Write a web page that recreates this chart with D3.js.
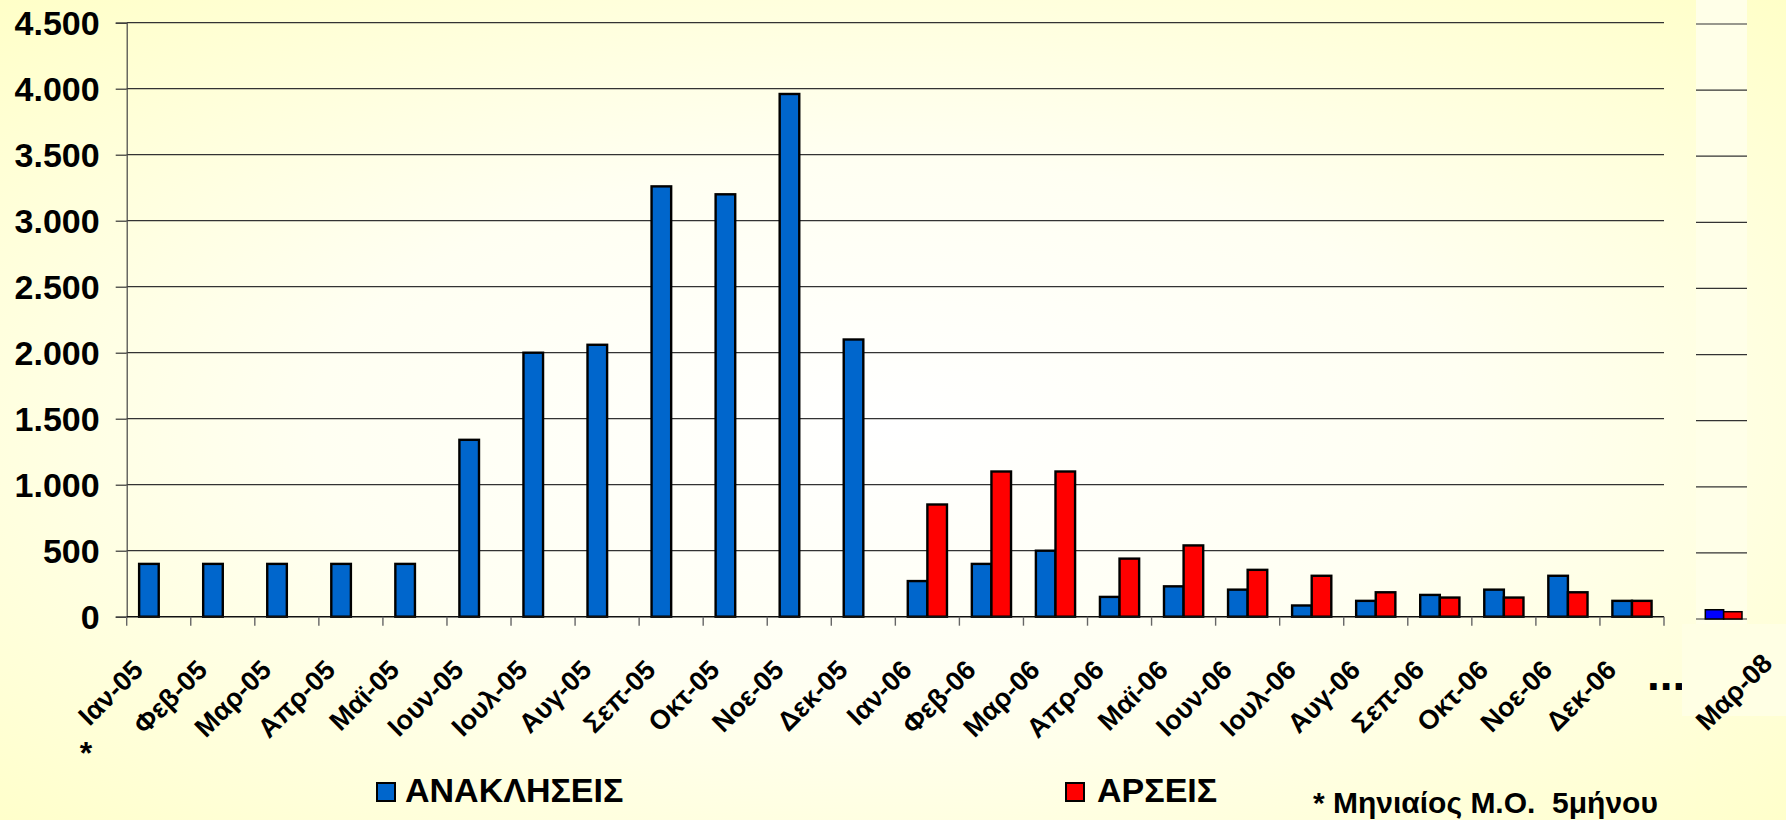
<!DOCTYPE html>
<html>
<head>
<meta charset="utf-8">
<script src="https://cdn.jsdelivr.net/npm/d3@7"></script>
<style>
  html, body { margin: 0; padding: 0; background: #FFFFCC; }
  svg { display: block; font-family: "Liberation Sans", Arial, sans-serif; font-weight: bold; }
</style>
</head>
<body>
<svg id="chart" width="1786" height="820"></svg>
<script>
// ---- data ----
const categories = ["Ιαν-05","Φεβ-05","Μαρ-05","Απρ-05","Μαϊ-05","Ιουν-05","Ιουλ-05","Αυγ-05","Σεπ-05","Οκτ-05","Νοε-05","Δεκ-05",
                    "Ιαν-06","Φεβ-06","Μαρ-06","Απρ-06","Μαϊ-06","Ιουν-06","Ιουλ-06","Αυγ-06","Σεπ-06","Οκτ-06","Νοε-06","Δεκ-06"];
const anakliseis = [400,400,400,400,400,1340,2000,2060,3260,3200,3960,2100,
                    270,400,500,150,230,205,85,120,165,205,310,120];
const arseis     = [null,null,null,null,null,null,null,null,null,null,null,null,
                    850,1100,1100,440,540,355,310,185,145,145,185,120];
const lastCategory = ["Μαρ-08"];
const lastAnakliseis = [70];
const lastArseis = [55];
const yTicks = [0,500,1000,1500,2000,2500,3000,3500,4000,4500];
const seriesNames = ["ΑΝΑΚΛΗΣΕΙΣ","ΑΡΣΕΙΣ"];
const footnote = "* Μηνιαίος Μ.Ο.  5μήνου";

(function draw() {
const W = 1786, H = 820;
const svg = d3.select("#chart");
const defs = svg.append("defs");
const grad = defs.append("radialGradient").attr("id","bg")
  .attr("cx","50%").attr("cy","52%").attr("r","72%");
grad.append("stop").attr("offset","0%").attr("stop-color","#FFFFFF");
grad.append("stop").attr("offset","45%").attr("stop-color","#FFFFF2");
grad.append("stop").attr("offset","100%").attr("stop-color","#FFFFC8");
svg.append("rect").attr("width",W).attr("height",H).attr("fill","url(#bg)");

const colBlue = "#0066CC", colRed = "#FF0000";
const pLeft = 126.7, pRight = 1664, pTop = 22.7, pBase = 616.7;

const x = d3.scaleBand().domain(categories).range([pLeft, pRight]).paddingInner(0).paddingOuter(0);
const xs = d3.scaleBand().domain(seriesNames).range([0, x.bandwidth()]).paddingInner(0).paddingOuter(0.634);
const y = d3.scaleLinear().domain([0, 4500]).range([pBase, pTop]);

// gridlines
svg.append("g").selectAll("line").data(yTicks.filter(d => d > 0)).join("line")
  .attr("x1", pLeft).attr("x2", pRight)
  .attr("y1", d => y(d)).attr("y2", d => y(d))
  .attr("stroke", "#333").attr("stroke-width", 1.2);

// y axis
const yAxis = svg.append("g").attr("transform", `translate(${pLeft},0)`)
  .call(d3.axisLeft(y).tickValues(yTicks).tickSize(11).tickPadding(16)
        .tickFormat(d => d3.format(",")(d).replace(/,/g, ".")));
yAxis.select(".domain").attr("stroke", "#444").attr("stroke-width", 1.2);
yAxis.selectAll(".tick line").attr("stroke", "#333").attr("stroke-width", 1.2);
yAxis.selectAll(".tick text").attr("font-size", 34).attr("font-weight", "bold")
  .attr("font-family", "'Liberation Sans', Arial, sans-serif").attr("fill", "#000").attr("dy", "0.35em");

// bars
const gBars = svg.append("g");
categories.forEach((c, i) => {
  [anakliseis[i], arseis[i]].forEach((v, k) => {
    if (v == null) return;
    gBars.append("rect")
      .attr("x", x(c) + xs(seriesNames[k]))
      .attr("y", y(v))
      .attr("width", xs.bandwidth())
      .attr("height", y(0) - y(v))
      .attr("fill", k === 0 ? colBlue : colRed)
      .attr("stroke", "#000").attr("stroke-width", 2.4);
  });
});

// x axis line + ticks between categories
svg.append("line").attr("x1", pLeft).attr("x2", pRight).attr("y1", pBase).attr("y2", pBase)
  .attr("stroke", "#111").attr("stroke-width", 1.4);
const boundaries = categories.map(c => x(c)).concat([pRight]);
svg.append("g").selectAll("line").data(boundaries).join("line")
  .attr("x1", d => d).attr("x2", d => d).attr("y1", pBase).attr("y2", pBase + 9)
  .attr("stroke", "#666").attr("stroke-width", 1.4);

// x labels, rotated -45
svg.append("g").selectAll("g").data(categories).join("g")
  .attr("transform", d => `translate(${x(d) + x.bandwidth()/2 - 14},${pBase + 55})`)
  .append("text").attr("transform", "rotate(-45)")
  .attr("text-anchor", "end").attr("font-size", 27).attr("fill", "#000")
  .text(d => d);

// asterisk under first label
svg.append("text").attr("x", 86).attr("y", 764).attr("text-anchor", "middle")
  .attr("font-size", 32).text("*");

// ellipsis
svg.append("text").attr("x", 1647).attr("y", 690).attr("font-size", 46).text("...");

// ---- second (pasted) panel: Μαρ-08 ----
svg.append("rect").attr("x", 1696).attr("y", 0).attr("width", 51).attr("height", 628).attr("fill", "#FFFFE8");
svg.append("rect").attr("x", 1682).attr("y", 624).attr("width", 104).attr("height", 92).attr("fill", "#FFFFE4");

const x2 = d3.scaleBand().domain(lastCategory).range([1696, 1747]);
const xs2 = d3.scaleBand().domain(seriesNames).range([0, x2.bandwidth()]).paddingInner(0).paddingOuter(0.39).align(0.65);
const y2 = d3.scaleLinear().domain([0, 4500]).range([619, 24]);

svg.append("g").selectAll("line").data(yTicks).join("line")
  .attr("x1", 1696).attr("x2", 1747)
  .attr("y1", d => y2(d)).attr("y2", d => y2(d))
  .attr("stroke", "#333").attr("stroke-width", 1.2);

lastCategory.forEach((c, i) => {
  [lastAnakliseis[i], lastArseis[i]].forEach((v, k) => {
    svg.append("rect")
      .attr("x", x2(c) + xs2(seriesNames[k]))
      .attr("y", y2(v))
      .attr("width", xs2.bandwidth())
      .attr("height", y2(0) - y2(v))
      .attr("fill", k === 0 ? "#0000FF" : colRed)
      .attr("stroke", "#000").attr("stroke-width", 1.5);
  });
});
svg.append("g").attr("transform", "translate(1774,665)")
  .append("text").attr("transform", "rotate(-45)")
  .attr("text-anchor", "end").attr("font-size", 27).text(lastCategory[0]);

// ---- legend ----
const legendItems = [
  {name: seriesNames[0], color: colBlue, sx: 377, tx: 405},
  {name: seriesNames[1], color: colRed,  sx: 1066, tx: 1097}
];
legendItems.forEach(d => {
  svg.append("rect").attr("x", d.sx).attr("y", 783).attr("width", 18).attr("height", 18)
    .attr("fill", d.color).attr("stroke", "#000").attr("stroke-width", 2);
  svg.append("text").attr("x", d.tx).attr("y", 802).attr("font-size", 34).text(d.name);
});

// footnote
svg.append("text").attr("x", 1313).attr("y", 813).attr("font-size", 30)
  .style("white-space", "pre").attr("xml:space", "preserve").text(footnote);
})();
</script>
</body>
</html>
